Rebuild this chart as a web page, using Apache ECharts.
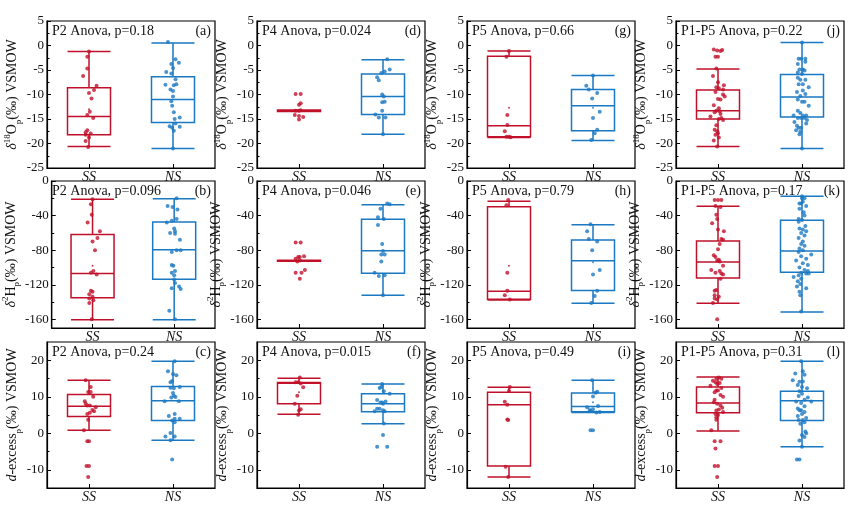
<!DOCTYPE html>
<html><head><meta charset="utf-8">
<script src="https://cdn.jsdelivr.net/npm/echarts@6/dist/echarts.min.js"></script>
<style>html,body{margin:0;padding:0;background:#fff}#c{width:857px;height:510px}</style>
</head><body><div id="c"></div>
<script>
const categories = ['SS', 'NS'];
const panelTitles = ['P2 Anova, p=0.18','P2 Anova, p=0.096','P2 Anova, p=0.24',
  'P4 Anova, p=0.024','P4 Anova, p=0.046','P4 Anova, p=0.015',
  'P5 Anova, p=0.66','P5 Anova, p=0.79','P5 Anova, p=0.49',
  'P1-P5 Anova, p=0.22','P1-P5 Anova, p=0.17','P1-P5 Anova, p=0.31'];
const panelLetters = ['(a)','(b)','(c)','(d)','(e)','(f)','(g)','(h)','(i)','(j)','(k)','(l)'];

// y ranges and ticks per row
const rowMin = [-25, -170, -15];
const rowMax = [5, 0, 25];
const rowMajor = [[-25,-20,-15,-10,-5,0,5], [-160,-120,-80,-40,0], [-10,0,10,20]];
const rowMinor = [[-22.5,-17.5,-12.5,-7.5,-2.5,2.5], [-140,-100,-60,-20], [-5,5,15]];

// box stats [min, Q1, median, Q3, max] for SS, NS
const box_a = [[-20.6,-18.2,-14.5,-8.6,-1.2],[-21.0,-15.7,-11.0,-6.4,0.5]];
const box_b = [[-160.4,-135,-107,-62,-21.2],[-160.4,-113.7,-79.4,-47.4,-20.4]];
const box_c = [[0.8,4.6,7.4,10.6,14.5],[-1.9,3.5,8.9,12.8,19.7]];
const box_d = [[-13.45,-13.45,-13.3,-13.15,-13.15],[-18.1,-14.1,-10.4,-5.8,-2.9]];
const box_e = [[-92.8,-92.8,-92.2,-91.6,-91.6],[-132,-106.7,-80.8,-44.2,-27.4]];
const box_f = [[5.2,8.1,13.7,13.9,15.1],[2.6,5.9,8.1,10.8,13.5]];
const box_g = [[-18.8,-18.6,-16.4,-2.2,-1.1],[-19.4,-17.4,-12.3,-9.0,-6.1]];
const box_h = [[-137.5,-136.7,-127.5,-29.7,-23.3],[-141.5,-126.7,-92.2,-68.2,-50.5]];
const box_i = [[-12.0,-9.0,7.8,11.2,12.6],[5.7,5.9,7.3,11.0,14.5]];
const box_j = [[-20.6,-15.0,-13.3,-9.1,-4.8],[-21.0,-14.6,-10.5,-5.9,0.6]];
const box_k = [[-141.5,-112.2,-93.8,-69.4,-29.3],[-151.6,-105.5,-81,-45.3,-17.7]];
const box_l = [[0.6,5.6,8.3,12.7,15.4],[-3.7,3.5,8.9,11.5,19.7]];

// points: [horizontal jitter (category units), value]
const ss_a = [[0,-1.2],[-0.02,-2.3],[-0.02,-4.7],[-0.07,-6.2],[0.09,-8.2],[0.06,-9.1],[0,-9.7],[0.03,-10.8],[0.01,-13.5],[-0.02,-14.2],[0.05,-14.8],[-0.02,-17.3],[-0.04,-17.7],[0.02,-17.95],[-0.04,-18.2],[0,-18.8],[-0.04,-19.5],[-0.01,-20.7]];
const ns_a = [[-0.06,0.7],[0.03,-2.8],[0.07,-3.5],[-0.02,-3.8],[0,-4.6],[-0.08,-5.4],[-0.02,-5.7],[0.03,-6.9],[-0.09,-8.0],[0.01,-8.1],[0.04,-7.9],[-0.03,-9.0],[0,-9.3],[0,-10.4],[-0.02,-11.4],[-0.01,-12.3],[0.01,-13.6],[0.08,-14.7],[0.02,-15.0],[0.03,-15.9],[-0.04,-16.5],[-0.01,-16.8],[0.08,-16.6],[0.01,-17.4],[0,-21.0]];
const ss_b = [[0,-21.2],[-0.02,-27],[-0.01,-39],[-0.06,-48],[0.09,-58],[0.06,-66],[0,-70],[0.03,-80],[0.01,-104],[-0.02,-106],[0.05,-108],[-0.02,-127],[0,-128],[-0.04,-131],[0,-134],[-0.04,-136],[0.01,-138],[-0.04,-141],[-0.01,-160]];
const ns_b = [[0.03,-20],[-0.08,-29],[-0.02,-30],[0.04,-33],[0.03,-44],[-0.03,-46],[-0.09,-48],[0,-55],[0.01,-58],[-0.05,-60],[0.01,-61],[0.07,-68],[0.08,-80],[-0.03,-82],[0.03,-80],[-0.03,-97],[-0.01,-98],[0.01,-104],[-0.03,-106],[0,-109],[0,-114],[0.01,-118],[0.06,-122],[-0.03,-124],[0.08,-125],[-0.06,-150],[0.01,-160]];
const ss_c = [[-0.04,14.5],[0.02,12.7],[-0.01,11.3],[0.02,11.3],[0.05,10.0],[-0.05,8.8],[-0.04,8.1],[-0.02,7.6],[0.01,7.6],[0.08,7.1],[0.04,6.4],[0.06,6.0],[0.01,5.6],[-0.02,5.3],[-0.01,3.7],[-0.06,0.8],[-0.02,-2.2],[0,-2.2],[-0.03,-9.0],[0,-9.0],[-0.01,-12.0]];
const ns_c = [[0.02,19.7],[-0.06,17.0],[0,16.2],[0.04,15.9],[-0.01,14.3],[-0.03,14.0],[-0.03,12.5],[0.08,12.7],[0.01,12.3],[0,11.0],[0.01,10.3],[-0.02,9.8],[0.03,9.9],[-0.1,8.8],[0.07,8.8],[0.02,5.3],[-0.05,4.7],[0.02,4.0],[0.08,4.0],[-0.01,3.5],[0.02,3.0],[-0.03,0.1],[-0.09,-0.9],[0.02,-0.9],[-0.03,-1.9],[-0.01,-7.2]];
const ss_d = [[-0.04,-9.9],[0.02,-9.9],[0.02,-11.8],[0,-12.1],[-0.04,-13.3],[0,-13.3],[0.02,-13.2],[-0.05,-14.2],[0,-14.4],[0.05,-14.6],[0,-15.1]];
const ns_d = [[0.05,-2.8],[0.08,-4.9],[0.02,-5.3],[-0.02,-5.6],[-0.07,-6.5],[-0.05,-7.1],[-0.01,-10.0],[0.01,-10.4],[0.02,-11.5],[-0.01,-11.6],[-0.01,-13.3],[-0.09,-14.1],[-0.05,-14.7],[0.03,-14.7],[0,-18.1]];
const ss_e = [[-0.04,-71],[0.02,-71],[0.06,-87],[-0.01,-88],[0.01,-88],[-0.04,-90],[0.01,-92],[-0.02,-93],[0.07,-103],[-0.04,-106],[0.03,-106],[0.01,-113]];
const ns_e = [[0.05,-26],[0.08,-27],[-0.03,-32],[-0.06,-42],[0.01,-44],[-0.06,-51],[-0.01,-73],[0,-81],[-0.02,-85],[0.02,-85],[-0.02,-93],[-0.1,-106],[0.02,-109],[-0.05,-110],[0,-132]];
const ss_f = [[0.01,15.3],[-0.04,14.0],[-0.01,14.0],[0.02,13.6],[0.05,12.6],[-0.02,10.3],[-0.05,8.1],[0.02,6.6],[0,6.2],[-0.01,5.1]];
const ns_f = [[-0.01,13.5],[-0.02,12.7],[-0.04,12.4],[0.01,11.5],[0.08,10.8],[-0.07,9.1],[0.03,8.7],[-0.03,8.4],[-0.01,8.4],[0,8.1],[-0.07,6.7],[-0.04,6.7],[0,6.3],[-0.1,6.0],[0.02,6.0],[0.01,2.7],[0,-0.5],[-0.07,-3.7],[0.05,-3.7]];
const ss_g = [[0,-1.1],[-0.03,-2.3],[-0.02,-14.2],[-0.02,-16.2],[-0.05,-17.5],[0,-18.6],[-0.03,-18.6],[0.02,-18.7]];
const ns_g = [[0,-6.1],[-0.08,-8.2],[-0.05,-9.0],[0.05,-9.7],[-0.01,-10.8],[0.08,-13.5],[0,-14.8],[0.05,-17.2],[0.02,-17.9],[-0.02,-19.3]];
const ss_h = [[-0.01,-22],[-0.03,-28],[-0.02,-106],[-0.02,-127],[-0.05,-132],[0.01,-137]];
const ns_h = [[-0.03,-50],[-0.07,-58],[-0.05,-67],[0.05,-70],[-0.01,-80],[0.08,-103],[0,-108],[0.05,-127],[0.02,-133],[-0.02,-141]];
const ss_i = [[0.01,12.7],[0,11.6],[-0.05,8.6],[-0.02,7.8],[-0.02,3.8],[-0.01,3.6],[-0.04,-9.2],[-0.01,-12.0]];
const ns_i = [[-0.01,14.5],[0.05,11.4],[0.03,11.1],[0,10.1],[0.06,7.5],[-0.07,7.1],[0,6.6],[-0.04,6.4],[-0.03,6.1],[0.08,5.8],[0.04,5.7],[-0.03,0.8],[0,0.8]];
const ss_j = [[-0.05,-0.8],[-0.01,-1.0],[0.03,-1.1],[0.05,-0.9],[-0.03,-2.3],[0,-2.3],[-0.02,-4.7],[-0.06,-6.2],[0,-7.5],[0.07,-8.1],[-0.02,-8.5],[0.01,-8.7],[0.06,-9.0],[-0.03,-9.5],[0.06,-10.0],[0.08,-10.4],[0,-10.9],[0.03,-11.0],[-0.05,-12.2],[0.01,-12.8],[-0.02,-13.3],[0.02,-13.4],[-0.04,-13.6],[0.03,-14.0],[-0.09,-14.5],[0.04,-14.8],[0.01,-15.0],[0.06,-15.2],[-0.02,-16.3],[-0.04,-17.2],[-0.01,-17.5],[0,-17.9],[-0.03,-18.2],[0.01,-18.8],[-0.05,-19.4],[-0.01,-20.6]];
const ns_j = [[0,0.6],[-0.04,-2.7],[-0.01,-2.7],[0.04,-2.7],[0.04,-3.3],[-0.05,-3.8],[-0.03,-4.9],[0.01,-4.9],[0.03,-5.1],[-0.05,-5.5],[0,-5.8],[-0.05,-6.6],[-0.02,-7.0],[0.04,-7.0],[-0.04,-7.9],[0.01,-7.9],[0.08,-8.5],[0.01,-9.2],[-0.06,-9.5],[0.04,-9.9],[-0.02,-10.3],[-0.05,-11.0],[0,-11.5],[0.03,-11.5],[0.08,-12.3],[-0.05,-13.3],[-0.02,-13.8],[-0.1,-14.3],[0.01,-14.3],[0.05,-14.3],[-0.05,-14.8],[-0.01,-14.8],[0.03,-14.8],[0.06,-15.2],[-0.09,-15.6],[0.05,-15.9],[-0.06,-16.4],[-0.04,-16.8],[-0.01,-16.8],[-0.07,-17.3],[-0.02,-17.6],[-0.03,-18.1],[0,-21.0]];
const ss_k = [[-0.04,-22],[0,-22],[0.04,-22],[-0.03,-29],[0.03,-30],[-0.02,-39],[-0.01,-44],[-0.07,-49],[0,-56],[0.07,-58],[0.04,-67],[0.06,-68],[0.02,-73],[0,-79],[-0.05,-86],[-0.03,-88],[0.01,-91],[-0.01,-92],[0.02,-93],[0.06,-98],[-0.08,-103],[0.02,-104],[-0.03,-106],[0.04,-107],[0.06,-108],[0.03,-113],[-0.02,-126],[-0.04,-127],[-0.04,-132],[0.01,-134],[-0.04,-136],[-0.01,-137],[-0.06,-141],[-0.01,-160]];
const ns_k = [[0,-17.7],[0,-20],[0.03,-20],[0.01,-24],[-0.03,-26],[-0.01,-26],[0.05,-29],[-0.03,-32],[0.02,-36],[0.03,-40],[-0.04,-44],[0,-45],[-0.04,-47],[0.04,-52],[-0.03,-55],[0.01,-56],[0.05,-58],[-0.01,-60],[0.03,-63],[-0.04,-66],[0.01,-70],[-0.01,-73],[0.03,-75],[-0.03,-78],[0.01,-80],[-0.04,-82],[0.11,-85],[-0.01,-87],[0.05,-90],[-0.07,-92],[0.01,-95],[0.07,-97],[-0.03,-100],[0.03,-103],[0.07,-104],[-0.01,-106],[0.05,-107],[0.08,-107],[-0.04,-109],[-0.1,-111],[-0.01,-113],[-0.05,-116],[-0.02,-119],[-0.06,-122],[0.05,-124],[-0.03,-128],[-0.02,-132],[-0.01,-151]];
const ss_l = [[0.01,15.3],[-0.02,14.9],[0.04,14.9],[-0.06,14.4],[-0.03,14.0],[0.02,13.8],[-0.01,13.5],[-0.09,13.0],[0.04,12.4],[-0.02,11.7],[0,11.7],[-0.04,11.2],[0.03,10.5],[0.06,10.0],[-0.04,9.2],[-0.05,8.5],[-0.01,8.1],[0.03,7.6],[0.05,7.0],[0.01,6.5],[-0.02,6.2],[0.06,5.8],[-0.03,5.3],[0,5.0],[-0.02,4.4],[-0.02,3.7],[-0.08,0.8],[-0.04,-2.2],[0.03,-2.2],[-0.03,-4.2],[-0.04,-9.0],[0,-9.0],[-0.01,-12.0]];
const ns_l = [[-0.01,19.7],[0.01,17.0],[-0.08,16.4],[0.03,16.0],[-0.11,14.5],[-0.03,14.1],[0.01,14.2],[-0.05,13.2],[0,12.7],[0.06,12.3],[-0.03,11.5],[0,10.8],[-0.04,10.2],[0.07,9.8],[0.03,9.2],[0.11,8.7],[-0.07,8.7],[-0.01,8.3],[0.03,7.4],[-0.05,6.8],[-0.03,6.3],[-0.01,6.3],[0.03,5.8],[0,5.3],[-0.05,4.7],[0.05,4.2],[-0.04,3.6],[0.01,3.6],[0.03,3.0],[-0.02,2.6],[0.04,0.5],[0.05,0.0],[0,-0.5],[0.03,-1.0],[-0.03,-2.0],[0,-3.7],[-0.06,-7.2],[-0.03,-7.2]];
// mean markers [category index, value]
const mean_a = [[0,-13.0]];
const mean_b = [[0,-98]];
const mean_f = [[0,11.2]];
const mean_g = [[0,-12.7],[1,-12.7]];
const mean_h = [[0,-98],[1,-94]];
const mean_i = [[1,8.5]];

const panels = [
  {col:0,row:0,box:box_a,ss:ss_a,ns:ns_a,mean:mean_a},
  {col:0,row:1,box:box_b,ss:ss_b,ns:ns_b,mean:mean_b},
  {col:0,row:2,box:box_c,ss:ss_c,ns:ns_c,mean:[]},
  {col:1,row:0,box:box_d,ss:ss_d,ns:ns_d,mean:[]},
  {col:1,row:1,box:box_e,ss:ss_e,ns:ns_e,mean:[]},
  {col:1,row:2,box:box_f,ss:ss_f,ns:ns_f,mean:mean_f},
  {col:2,row:0,box:box_g,ss:ss_g,ns:ns_g,mean:mean_g},
  {col:2,row:1,box:box_h,ss:ss_h,ns:ns_h,mean:mean_h},
  {col:2,row:2,box:box_i,ss:ss_i,ns:ns_i,mean:mean_i},
  {col:3,row:0,box:box_j,ss:ss_j,ns:ns_j,mean:[]},
  {col:3,row:1,box:box_k,ss:ss_k,ns:ns_k,mean:[]},
  {col:3,row:2,box:box_l,ss:ss_l,ns:ns_l,mean:[]}
];

const RED = '#c0102a', BLUE = '#1b78c2';
const FONT = "'Liberation Serif', 'Times New Roman', serif";
const colLeft = [47, 257, 467, 676];
const rowTop = [21, 181, 342];
const W = 168, H = [147, 147, 146];
const yNames = [
  '{it|δ}{sup|18}O{sub|p}(‰) VSMOW',
  '{it|δ}{sup|2}H{sub|p}(‰) VSMOW',
  '{it|d}-excess{sub|p}(‰) VSMOW'
];

const grid = [], xAxis = [], yAxis = [], series = [], title = [];
panels.forEach((p, i) => {
  const left = colLeft[p.col], top = rowTop[p.row], h = H[p.row];
  grid.push({left: left, top: top, width: W, height: h, show: true, borderColor: '#000', borderWidth: 1.2, backgroundColor: 'transparent'});
  xAxis.push({gridIndex: i, type: 'category', data: categories, boundaryGap: true, position: 'bottom',
    axisLine: {show: true, onZero: false, lineStyle: {color: '#000', width: 1.2}},
    axisTick: {show: true, inside: true, alignWithLabel: true, length: 4, lineStyle: {color: '#000'}},
    axisLabel: {fontFamily: FONT, fontSize: 14, fontStyle: 'italic', color: '#111', margin: 2},
    splitLine: {show: false}});
  xAxis.push({gridIndex: i, type: 'value', min: 0, max: 2, show: false, position: 'top',
    axisLine: {onZero: false}});
  yAxis.push({gridIndex: i, type: 'value', min: rowMin[p.row], max: rowMax[p.row], position: 'left',
    axisLine: {show: true, onZero: false, lineStyle: {color: '#000', width: 1.2}},
    axisTick: {show: true, inside: true, length: 4, customValues: rowMajor[p.row], lineStyle: {color: '#000'}},
    axisLabel: {fontFamily: FONT, fontSize: 13, color: '#111', margin: 3, customValues: rowMajor[p.row], showMinLabel: true, showMaxLabel: true},
    splitLine: {show: false},
    name: yNames[p.row], nameLocation: 'middle', nameRotate: 90, nameGap: 24,
    nameTextStyle: {fontFamily: FONT, fontSize: 14, color: '#111', lineHeight: 20,
      rich: {it: {fontFamily: FONT, fontSize: 14, fontStyle: 'italic', color: '#111', lineHeight: 20},
             sup: {fontFamily: FONT, fontSize: 9, color: '#111', lineHeight: 10, verticalAlign: 'top'},
             sub: {fontFamily: FONT, fontSize: 9, color: '#111', lineHeight: 10, verticalAlign: 'bottom'}}}});
  yAxis.push({gridIndex: i, type: 'value', min: rowMin[p.row], max: rowMax[p.row], position: 'left', offset: 0,
    axisLine: {show: false, onZero: false}, axisLabel: {show: false}, splitLine: {show: false},
    axisTick: {show: true, inside: true, length: 2.5, customValues: rowMinor[p.row], lineStyle: {color: '#000'}}});
  const xc = 2 * i, xv = 2 * i + 1, yi = 2 * i;
  series.push({type: 'boxplot', xAxisIndex: xc, yAxisIndex: yi, boxWidth: [43, 43], silent: true,
    data: [
      {value: p.box[0], itemStyle: {color: 'rgba(0,0,0,0)', borderColor: RED, borderWidth: 1.5}},
      {value: p.box[1], itemStyle: {color: 'rgba(0,0,0,0)', borderColor: BLUE, borderWidth: 1.5}}
    ]});
  series.push({type: 'scatter', xAxisIndex: xv, yAxisIndex: yi, symbol: 'circle', symbolSize: 4, silent: true,
    itemStyle: {color: RED}, data: p.ss.map(d => [0.5 + d[0], d[1]])});
  series.push({type: 'scatter', xAxisIndex: xv, yAxisIndex: yi, symbol: 'circle', symbolSize: 4, silent: true,
    itemStyle: {color: BLUE}, data: p.ns.map(d => [1.5 + d[0], d[1]])});
  series.push({type: 'scatter', xAxisIndex: xv, yAxisIndex: yi, symbol: 'circle', symbolSize: 2, silent: true,
    data: p.mean.map(d => ({value: [d[0] + 0.5, d[1]], itemStyle: {color: d[0] === 0 ? RED : BLUE}}))});
  title.push({text: panelTitles[i], left: left + 5, top: top + 3, padding: 0,
    textStyle: {fontFamily: FONT, fontSize: 14, fontWeight: 'normal', color: '#111'}});
  title.push({text: panelLetters[i], right: 857 - (left + W) + 4, top: top + 3, padding: 0,
    textStyle: {fontFamily: FONT, fontSize: 14, fontWeight: 'normal', color: '#111'}});
});

const chart = echarts.init(document.getElementById('c'), null, {renderer: 'canvas'});
chart.setOption({animation: false, backgroundColor: '#fff', title, grid, xAxis, yAxis, series});
</script></body></html>
